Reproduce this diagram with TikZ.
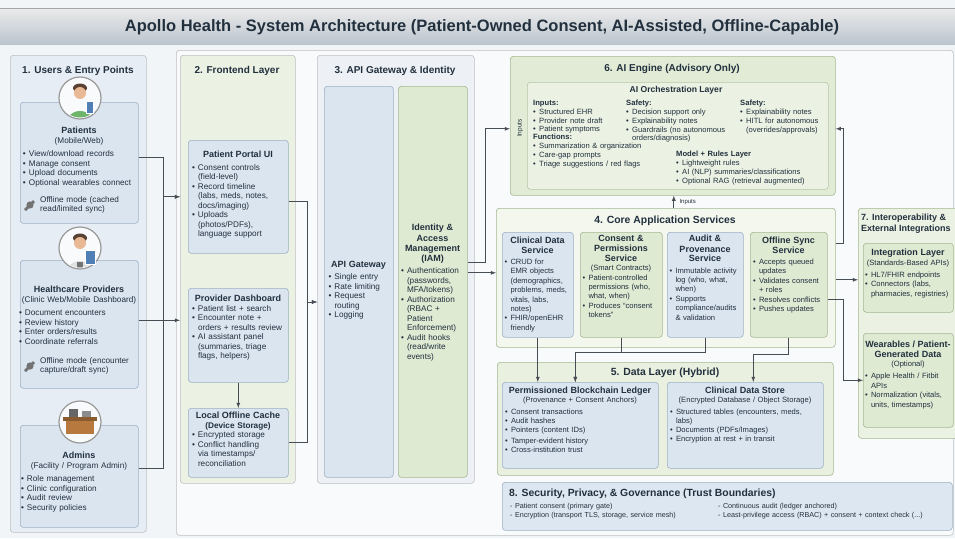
\documentclass[tikz,border=0pt]{standalone}
\usepackage{fontspec}
\setmainfont{Liberation Sans}
\usetikzlibrary{arrows}
\usetikzlibrary{positioning}

\definecolor{ink}{HTML}{22303E}
\definecolor{wire}{HTML}{474D55}
\definecolor{paper}{HTML}{F2F5F8}
\definecolor{blueFill}{HTML}{DAE5F0}
\definecolor{blueEdge}{HTML}{9CB0C4}
\definecolor{greenFill}{HTML}{DFEAD3}
\definecolor{greenEdge}{HTML}{A3B890}
\definecolor{paleBlue}{HTML}{E6EDF5}
\definecolor{paleGreen}{HTML}{EBF2E3}
\definecolor{paleGray}{HTML}{EDF1F5}
\definecolor{skin}{HTML}{E9B894}
\definecolor{hair}{HTML}{5A4232}
\definecolor{shirt}{HTML}{6DB56A}
\definecolor{tablet}{HTML}{4F7FB5}
\definecolor{desk}{HTML}{B7793E}

\setlength{\parindent}{0pt}
\hyphenpenalty=10000
\exhyphenpenalty=10000
% bullet item with hanging indent
\newcommand{\itm}{\par\hangindent=6pt\hangafter=1\makebox[6pt][l]{\textbullet}}
% card title
\newcommand{\ttl}[1]{{\bfseries\fontsize{9}{10.5}\selectfont #1}}

\begin{document}
\begin{tikzpicture}[x=1pt, y=-1pt, text=ink, font=\fontsize{8.2}{9.5}\selectfont,
    box/.style={draw, rounded corners=3pt, line width=0.6pt, anchor=north west, inner sep=0pt},
    size/.style 2 args={minimum width=#1, minimum height=#2},
    panel/.style={box, fill=#1, draw=black!25},
    card/.style={box, fill=#1Fill, draw=#1Edge},
    txt/.style={align=left, inner sep=0pt, anchor=north},
    head/.style={font=\bfseries\fontsize{10}{11.5}\selectfont, inner sep=0pt},
    tiny/.style={font=\fontsize{7.6}{9.4}\selectfont},
    link/.style={draw=wire, line width=0.8pt, -latex},
    ring/.style={draw=black!40, fill=#1, line width=1.2pt}]
    \useasboundingbox (0,0) rectangle (955,538);
    \clip (0,0) rectangle (955,538);
    \fill[paper] (0,0) rectangle (955,538);

    % title band
    \shade[top color=white!92!black, bottom color=black!14!blueFill] (0,8) rectangle (955,44);
    \draw[black!35] (0,8) -- (955,8);
    \node[font=\bfseries\fontsize{16.5}{18}\selectfont] (title) at (482,27)
        {Apollo Health - System Architecture (Patient-Owned Consent, AI-Assisted, Offline-Capable)};

    % layers
    \node[panel=white!55!paper, size={777}{485}] (main) at (176,50) {};
    \node[panel=paleBlue, size={136}{477}] (users) at (10,55) {};
    \node[panel=paleGreen, size={115}{428}] (fe) at (180,55) {};
    \node[panel=paleGray, size={157}{428}] (col3) at (317,55) {};
    \node[head] at (78,71) {1. Users \& Entry Points};
    \node[head] at (237,71) {2. Frontend Layer};
    \node[head] at (395,71) {3. API Gateway \& Identity};

    % 1. users
    \node[card=blue, size={118}{121}] (pat) at (20,102) {};
    \node[card=blue, size={118}{128}] (prov) at (20,260) {};
    \node[card=blue, size={118}{102}] (adm) at (20,425) {};

    % patient avatar
    \draw[ring=white!80!blueFill] (80,98) circle (21);
    \begin{scope}
        \clip (80,98) circle (19.5);
        \fill[shirt] (80,124) ellipse (14 and 13);
    \end{scope}
    \fill[hair] (80,88) ellipse (7 and 4.5);
    \fill[skin] (80,93) circle (6);
    \fill[tablet, draw=white, line width=0.6pt] (86,101) rectangle (93,113);
    % provider avatar
    \draw[ring=white!80!blueFill] (80,248) circle (21);
    \begin{scope}
        \clip (80,248) circle (19.5);
        \fill[black!12] (80,274) ellipse (14 and 13);
        \fill[black!55] (77,262) rectangle (83,270);
    \end{scope}
    \fill[hair] (80,238) ellipse (7 and 4.5);
    \fill[skin] (80,243) circle (6);
    \fill[tablet, draw=white, line width=0.8pt] (85,250) rectangle (95,264);
    % admin avatar
    \draw[ring=white!80!blueFill] (80,422) circle (21);
    \fill[black!60] (69,409) rectangle (78,418);
    \fill[black!45] (82,411) rectangle (91,418);
    \fill[desk!75!black] (63,417) rectangle (97,421);
    \fill[desk] (66,421) rectangle (94,434);

    \node[txt, text width=112pt] (pat-t) at (79,127)
        {{\centering\ttl{Patients}\\(Mobile/Web)\par}\vspace{4pt}
         \itm View/download records
         \itm Manage consent
         \itm Upload documents
         \itm Optional wearables connect\par};
    \node[txt, anchor=north west, text width=96pt] (pat-o) at (40,196)
        {Offline mode (cached\\read/limited sync)};
    \node[txt, text width=120pt] (prov-t) at (79,286)
        {{\centering\ttl{Healthcare Providers}\\(Clinic Web/Mobile Dashboard)\par}\vspace{4pt}
         \itm Document encounters
         \itm Review history
         \itm Enter orders/results
         \itm Coordinate referrals\par};
    \node[txt, anchor=north west, text width=96pt] (prov-o) at (40,357)
        {Offline mode (encounter\\capture/draft sync)};
    \node[txt, text width=116pt] (adm-t) at (79,452)
        {{\centering\ttl{Admins}\\(Facility / Program Admin)\par}\vspace{4pt}
         \itm Role management
         \itm Clinic configuration
         \itm Audit review
         \itm Security policies\par};
    % offline badges
    \foreach \y in {205,366} {
        \fill[black!55] (30,\y) circle (3.6);
        \fill[black!55] (24,\y+4) -- (33,\y-5) -- (35,\y-3) -- (26,\y+6) -- cycle;
    }

    % 2. frontend
    \node[card=blue, size={100}{113}] (portal) at (188,140) {};
    \node[card=blue, size={100}{94}] (dash) at (188,288) {};
    \node[card=blue, size={100}{69}] (cache) at (188,408) {};
    \node[txt, text width=92pt] (portal-t) at (238,151)
        {{\centering\ttl{Patient Portal UI}\par}\vspace{3pt}
         \itm Consent controls (field-level)
         \itm Record timeline (labs, meds, notes, docs/imaging)
         \itm Uploads (photos/PDFs), language support\par};
    \node[txt, text width=92pt] (dash-t) at (238,295)
        {{\centering\ttl{Provider Dashboard}\par}
         \itm Patient list + search
         \itm Encounter note + orders + results review
         \itm AI assistant panel (summaries, triage flags, helpers)\par};
    \node[txt, text width=92pt] (cache-t) at (238,412)
        {{\centering\ttl{Local Offline Cache}\\\textbf{(Device Storage)}\par}
         \itm Encrypted storage
         \itm Conflict handling via timestamps/ reconciliation\par};

    % 3. gateway and identity
    \node[box, fill=blueFill, draw=blueEdge, size={69}{391}] (api) at (324,86) {};
    \node[box, fill=greenFill, draw=greenEdge, size={69}{391}] (iam) at (398,86) {};
    \node[txt, text width=60pt] (api-t) at (358.5,261)
        {{\centering\ttl{API Gateway}\par}\vspace{3pt}
         \itm Single entry
         \itm Rate limiting
         \itm Request routing
         \itm Logging\par};
    \node[txt, text width=63pt] (iam-t) at (432.5,224)
        {{\centering\ttl{Identity \&\\Access\\Management\\(IAM)}\par}\vspace{3pt}
         \itm Authentication (passwords, MFA/tokens)
         \itm Authorization (RBAC + Patient Enforcement)
         \itm Audit hooks (read/write events)\par};

    % 6. AI engine
    \node[box, fill=greenFill!85!paleGreen, draw=greenEdge, size={325}{139}] (ai) at (510,56) {};
    \node[box, fill=paleGreen, draw=greenEdge!80, size={301}{107}] (orch) at (527,82) {};
    \node[head] at (672,69) {6. AI Engine (Advisory Only)};
    \node[font=\bfseries\fontsize{8.6}{10}\selectfont] at (676,90) {AI Orchestration Layer};
    \node[rotate=90, font=\fontsize{6.5}{7}\selectfont] at (520,128) {Inputs};
    \begin{scope}[font=\fontsize{7.6}{8.8}\selectfont]
        \node[txt, anchor=north west, text width=92pt] (ai-in) at (533,100)
            {\textbf{Inputs:}
             \itm Structured EHR
             \itm Provider note draft
             \itm Patient symptoms\par};
        \node[txt, anchor=north west, text width=110pt] (ai-safe) at (626,100)
            {\textbf{Safety:}
             \itm Decision support only
             \itm Explainability notes
             \itm Guardrails (no autonomous orders/diagnosis)\par};
        \node[txt, anchor=north west, text width=88pt] (ai-out) at (740,100)
            {\textbf{Safety:}
             \itm Explainability notes
             \itm HITL for autonomous (overrides/approvals)\par};
        \node[txt, anchor=north west, text width=125pt] (ai-fn) at (533,134)
            {\textbf{Functions:}
             \itm Summarization \& organization
             \itm Care-gap prompts
             \itm Triage suggestions / red flags\par};
        \node[txt, anchor=north west, text width=148pt] (ai-model) at (676,151)
            {\textbf{Model + Rules Layer}
             \itm Lightweight rules
             \itm AI (NLP) summaries/classifications
             \itm Optional RAG (retrieval augmented)\par};
    \end{scope}

    % 4. core services
    \node[box, fill=white!40!paleGreen, draw=greenEdge, size={339}{139}] (core) at (496,208) {};
    \node[head, font=\bfseries\fontsize{10.4}{12}\selectfont] at (665,221) {4. Core Application Services};
    \node[card=blue, size={71}{105}] (cds) at (502,232) {};
    \node[card=green, size={82}{105}] (cps) at (580,232) {};
    \node[card=blue, size={76}{105}] (aps) at (667,232) {};
    \node[card=green, size={77}{105}] (oss) at (750,232) {};
    \begin{scope}[tiny]
        \node[txt, text width=66pt] (cds-t) at (537.5,237)
            {{\centering\ttl{Clinical Data\\Service}\par}\vspace{2pt}
             \itm CRUD for EMR objects (demographics, problems, meds, vitals, labs, notes)
             \itm FHIR/openEHR friendly\par};
        \node[txt, text width=77pt] (cps-t) at (621,235)
            {{\centering\ttl{Consent \&\\Permissions\\Service}\\(Smart Contracts)\par}
             \itm Patient-controlled permissions (who, what, when)
             \itm Produces ``consent tokens''\par};
        \node[txt, text width=71pt] (aps-t) at (705,235)
            {{\centering\ttl{Audit \&\\Provenance\\Service}\par}\vspace{2pt}
             \itm Immutable activity log (who, what, when)
             \itm Supports compliance/audits \& validation\par};
        \node[txt, text width=71pt] (oss-t) at (788.5,237)
            {{\centering\ttl{Offline Sync\\Service}\par}\vspace{2pt}
             \itm Accepts queued updates
             \itm Validates consent + roles
             \itm Resolves conflicts
             \itm Pushes updates\par};
    \end{scope}

    % 5. data layer
    \node[box, fill=paleGreen!80!greenFill, draw=greenEdge, size={336}{113}] (data) at (497,362) {};
    \node[head, font=\bfseries\fontsize{10.4}{12}\selectfont] at (665,373) {5. Data Layer (Hybrid)};
    \node[card=blue, size={156}{86}] (ledger) at (502,382) {};
    \node[card=blue, size={156}{86}] (store) at (667,382) {};
    \begin{scope}[font=\fontsize{7.6}{9}\selectfont]
        \node[txt, text width=150pt] (ledger-t) at (580,387)
            {{\centering\ttl{Permissioned Blockchain Ledger}\\(Provenance + Consent Anchors)\par}\vspace{3pt}
             \itm Consent transactions
             \itm Audit hashes
             \itm Pointers (content IDs)\par\vspace{2pt}
             \itm Tamper-evident history
             \itm Cross-institution trust\par};
        \node[txt, text width=150pt] (store-t) at (745,387)
            {{\centering\ttl{Clinical Data Store}\\(Encrypted Database / Object Storage)\par}\vspace{3pt}
             \itm Structured tables (encounters, meds, labs)
             \itm Documents (PDFs/Images)
             \itm Encryption at rest + in transit\par};
    \end{scope}

    % 8. security band
    \node[box, fill=blueFill!75!paleBlue, draw=blueEdge, size={450}{48}] (sec) at (502,482) {};
    \node[head, anchor=west, font=\bfseries\fontsize{10.4}{12}\selectfont] at (509,494)
        {8. Security, Privacy, \& Governance (Trust Boundaries)};
    \begin{scope}[font=\fontsize{7.2}{9.5}\selectfont]
        \node[txt, anchor=north west, text width=205pt] (sec-a) at (510,503)
            {- Patient consent (primary gate)\\- Encryption (transport TLS, storage, service mesh)};
        \node[txt, anchor=north west, text width=230pt] (sec-b) at (718,503)
            {- Continuous audit (ledger anchored)\\- Least-privilege access (RBAC) + consent + context check (...)};
    \end{scope}

    % 7. interoperability
    \node[box, fill=paleGreen, draw=greenEdge, size={110}{230}] (io) at (858,208) {};
    \node[head, anchor=north west, align=left, font=\bfseries\fontsize{9}{10.5}\selectfont] at (861,214)
        {7. Interoperability \&\\External Integrations};
    \node[card=green, size={90}{69}] (integ) at (863,243) {};
    \node[card=green, size={90}{94}] (wear) at (863,333) {};
    \begin{scope}[tiny]
        \node[txt, text width=86pt] (integ-t) at (908,249)
            {{\centering\ttl{Integration Layer}\\(Standards-Based APIs)\par}\vspace{3pt}
             \itm HL7/FHIR endpoints
             \itm Connectors (labs, pharmacies, registries)\par};
        \node[txt, text width=86pt] (wear-t) at (908,341)
            {{\centering\ttl{Wearables / Patient-\\Generated Data}\\(Optional)\par}\vspace{3pt}
             \itm Apple Health / Fitbit APIs
             \itm Normalization (vitals, units, timestamps)\par};
    \end{scope}

    % users -> frontend
    \draw[link] ([yshift=5pt]pat.east) -- ++(25,0) |- (fe.west |- portal.west);
    \draw[link] ([yshift=8pt]adm.east) -- ++(25,0) |- (fe.west |- portal.west);
    \draw[link] ([yshift=4pt]prov.east) -- ([yshift=4pt]prov.east -| fe.west);
    \draw[link] (dash) -- (cache);
    % frontend -> gateway
    \coordinate (gwin) at (317,302);
    \draw[link] ([yshift=-5pt]portal.east) -- ++(19,0) |- (gwin);
    \draw[link] (cache.east) -- ++(19,0) |- (gwin);
    % identity -> ai / core
    \draw[link] ([yshift=19pt]iam.east) -- ++(18,0) |- ([yshift=-3pt]ai.west);
    \draw[link] ([yshift=9pt]iam.east) -- ([yshift=9pt]iam.east -| core.west);
    % core <-> ai
    \draw[link] ([xshift=8pt]core.north) -- ([xshift=8pt]core.north |- ai.south)
        node[pos=0.45, right=2pt, font=\fontsize{6}{7}\selectfont] {Inputs};
    \draw[link] ([yshift=34pt]core.east) -- ++(8,0) |- ([yshift=-3pt]ai.east);
    % core -> external
    \draw[link] ([yshift=-2pt]core.east) -- ([yshift=-2pt]core.east -| io.west);
    \draw[link] ([yshift=-15pt]oss.east) -- ++(16,0) |- (wear.west);
    % core -> data
    \draw[link] (cds.south) -- (cds.south |- ledger.north);
    \draw[link] (cps.south) -- ++(0,15) -| ([xshift=-5pt]ledger.north);
    \draw[link] (aps.south) -- ++(0,15) -| ([xshift=-5pt]ledger.north);
    \draw[link] (oss.south) -- ++(0,17) -| ([xshift=8pt]store.north);
\end{tikzpicture}
\end{document}
